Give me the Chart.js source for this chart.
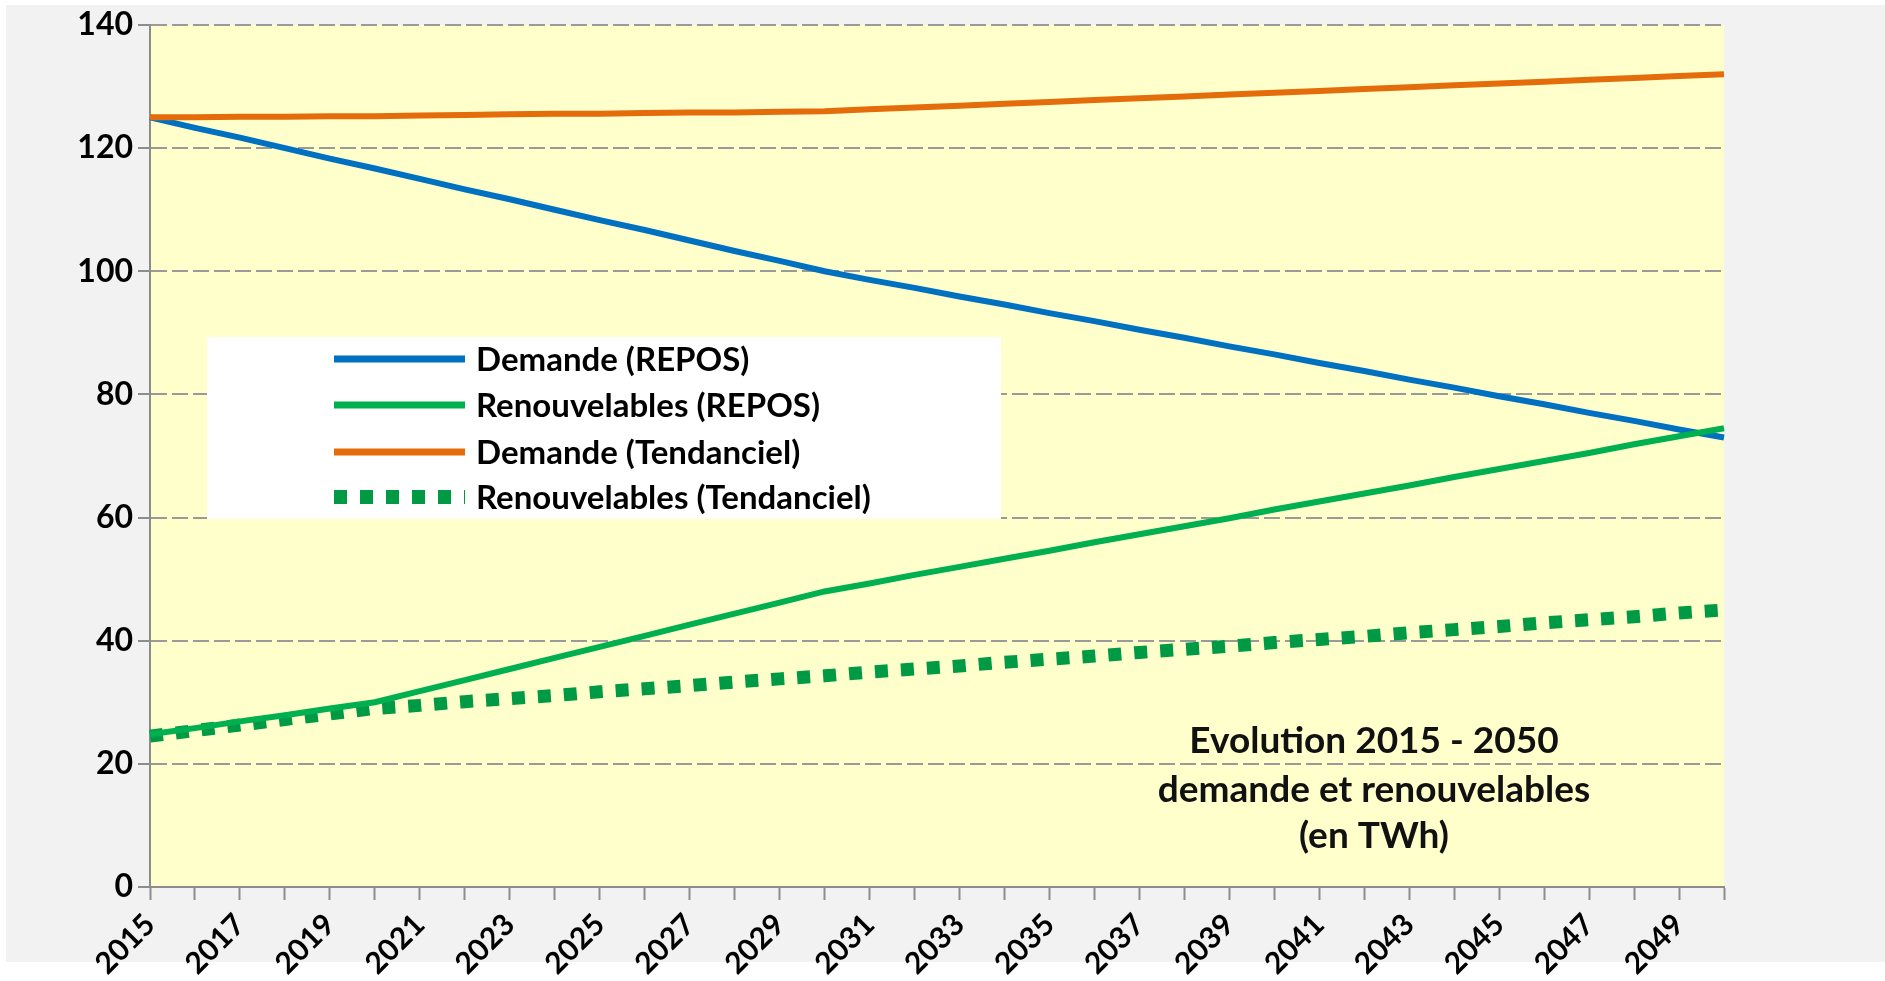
<!DOCTYPE html>
<html><head><meta charset="utf-8">
<script src="https://cdn.jsdelivr.net/npm/chart.js@4"></script>
<style>html,body{margin:0;padding:0;background:#fff;overflow:hidden}#wrap{width:1885px;height:981px;position:relative}canvas{display:block}</style>
</head><body><div id="wrap"><canvas id="c" width="1885" height="981" style="width:1885px;height:981px"></canvas></div>
<script>
const years = ['2015','2016','2017','2018','2019','2020','2021','2022','2023','2024','2025','2026','2027','2028','2029','2030','2031','2032','2033','2034','2035','2036','2037','2038','2039','2040','2041','2042','2043','2044','2045','2046','2047','2048','2049','2050'];
const shownYearLabels = ['2015','2017','2019','2021','2023','2025','2027','2029','2031','2033','2035','2037','2039','2041','2043','2045','2047','2049'];
const yTicks = [0,20,40,60,80,100,120,140];

const demandeRepos = [125,123.3,121.7,120,118.3,116.7,115,113.3,111.7,110,108.3,106.7,105,103.3,101.7,100,98.6,97.3,95.9,94.6,93.2,91.9,90.5,89.2,87.8,86.5,85.1,83.8,82.4,81.1,79.7,78.4,77,75.7,74.3,73];
const renouvRepos = [24.8,25.8,26.9,27.9,29,30,31.8,33.6,35.4,37.2,39,40.8,42.6,44.4,46.2,48,49.3,50.7,52,53.3,54.6,56,57.3,58.6,59.9,61.3,62.6,63.9,65.2,66.6,67.9,69.2,70.5,71.9,73.2,74.5];
const demandeTend = [125,125,125.1,125.1,125.2,125.2,125.3,125.4,125.5,125.6,125.6,125.7,125.8,125.8,125.9,126,126.3,126.6,126.9,127.2,127.5,127.8,128.1,128.4,128.7,129,129.3,129.6,129.9,130.2,130.5,130.8,131.1,131.4,131.7,132];
const renouvTend = [24.5,25.4,26.3,27.2,28.1,29,29.5,30.1,30.6,31.1,31.7,32.2,32.7,33.3,33.8,34.3,34.9,35.4,35.9,36.5,37,37.5,38.1,38.6,39.1,39.7,40.2,40.7,41.3,41.8,42.3,42.9,43.4,43.9,44.5,45];

const titleLines = ['Evolution 2015 - 2050','demande et renouvelables','(en TWh)'];
const FONT = 'Lato, "Open Sans", sans-serif';

const bgPlugin = {
  id: 'bg',
  beforeDraw(chart) {
    const ctx = chart.ctx, a = chart.chartArea;
    ctx.save();
    ctx.fillStyle = '#ffffff';
    ctx.fillRect(0, 0, chart.width, chart.height);
    ctx.fillStyle = '#f2f2f2';
    ctx.fillRect(6, 5, chart.width - 6, 957);
    ctx.fillStyle = '#ffffcc';
    ctx.fillRect(a.left, a.top, a.right - a.left, a.bottom - a.top);
    ctx.restore();
  }
};

const overlayPlugin = {
  id: 'overlay',
  afterDraw(chart) {
    const ctx = chart.ctx, a = chart.chartArea;
    ctx.save();
    const bx = a.left + 57, by = a.top + 312, bw = 794, bh = 182;
    ctx.fillStyle = '#ffffff';
    ctx.fillRect(bx, by, bw, bh);
    const rowY = [359, 405, 452, 497];
    chart.data.datasets.forEach((ds, i) => {
      const y = rowY[i];
      ctx.save();
      ctx.strokeStyle = ds.borderColor;
      ctx.lineWidth = ds.legendWidth;
      ctx.lineCap = 'butt';
      ctx.setLineDash(ds.borderDash || []);
      ctx.beginPath();
      ctx.moveTo(334, y);
      ctx.lineTo(465, y);
      ctx.stroke();
      ctx.restore();
      ctx.fillStyle = '#000';
      ctx.font = 'bold 33px ' + FONT;
      ctx.textAlign = 'left';
      ctx.textBaseline = 'middle';
      ctx.fillText(ds.label, 476, y + 1);
    });
    ctx.fillStyle = '#111';
    ctx.font = 'bold 37px ' + FONT;
    ctx.textAlign = 'center';
    ctx.textBaseline = 'middle';
    const ty = [741, 790, 836];
    titleLines.forEach((t, i) => ctx.fillText(t, 1374, ty[i]));
    ctx.restore();
  }
};

new Chart(document.getElementById('c'), {
  type: 'line',
  data: {
    labels: years,
    datasets: [
      { label: 'Demande (REPOS)', data: demandeRepos, borderColor: '#0070c0', borderWidth: 6, legendWidth: 7, order: 3 },
      { label: 'Renouvelables (REPOS)', data: renouvRepos, borderColor: '#00b050', borderWidth: 6, legendWidth: 7, order: 1 },
      { label: 'Demande (Tendanciel)', data: demandeTend, borderColor: '#e46c0a', borderWidth: 6, legendWidth: 7, order: 2 },
      { label: 'Renouvelables (Tendanciel)', data: renouvTend, borderColor: '#009a44', borderWidth: 13, legendWidth: 14, borderDash: [13, 13], borderCapStyle: 'butt', order: 4 }
    ]
  },
  options: {
    responsive: false,
    animation: false,
    devicePixelRatio: 1,
    layout: { padding: { top: 25, right: 161, left: 0, bottom: 0 } },
    elements: { point: { radius: 0 }, line: { tension: 0, fill: false } },
    plugins: { legend: { display: false }, tooltip: { enabled: false }, title: { display: false } },
    scales: {
      x: {
        offset: false,
        grid: { drawOnChartArea: false, drawTicks: true, tickLength: 13, tickColor: '#8c8c8c', tickWidth: 2 },
        border: { display: true, color: '#8c8c8c', width: 2 },
        ticks: {
          autoSkip: false, maxRotation: 45, minRotation: 45, color: '#000', padding: 7,
          font: { family: FONT, weight: 'bold', size: 30 },
          callback: function(v, i) { const l = this.getLabelForValue(v); return shownYearLabels.includes(l) ? l : ''; }
        },
        afterFit(s) { s.height = 94; }
      },
      y: {
        min: 0, max: 140,
        afterBuildTicks(s) { s.ticks = yTicks.map(v => ({ value: v })); },
        grid: { color: '#9a9a9a', lineWidth: 2, tickLength: 12, tickColor: '#8c8c8c', tickWidth: 2, tickBorderDash: [] },
        border: { display: true, color: '#8c8c8c', width: 2, dash: [16, 5] },
        ticks: { color: '#000', padding: 5, font: { family: FONT, weight: 'bold', size: 32 } },
        afterFit(s) { s.width = 150; }
      }
    }
  },
  plugins: [bgPlugin, overlayPlugin]
});
</script>
</body></html>
